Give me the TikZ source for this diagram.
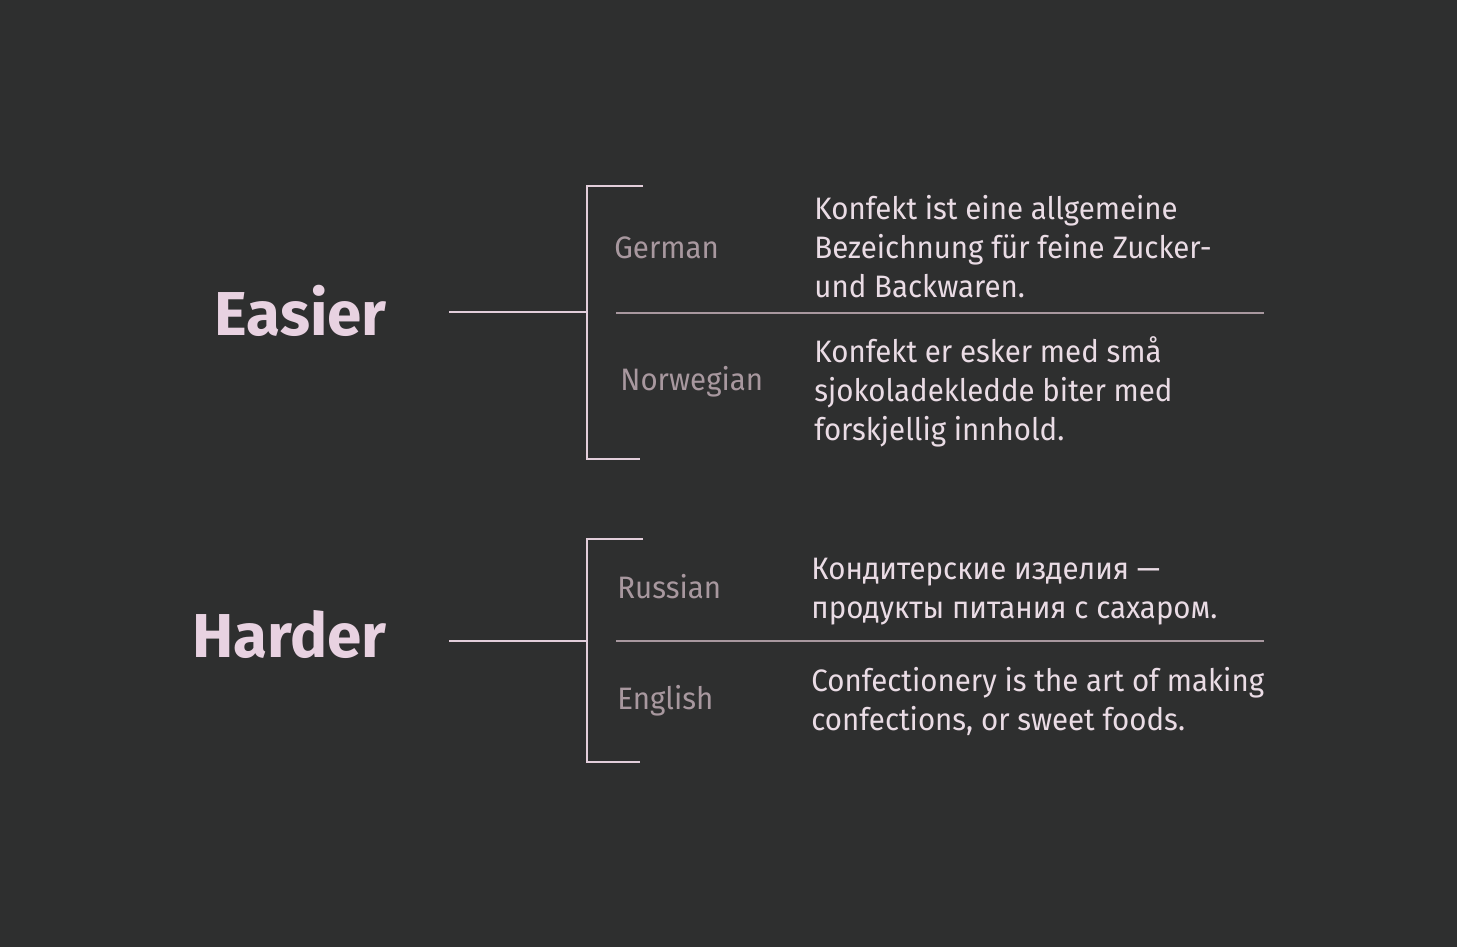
\documentclass[tikz,border=0pt]{standalone}
\usepackage{fontspec}
\setmainfont{Fira Sans}
\newfontfamily\bodyfont[FakeStretch=0.95]{Fira Sans}
\definecolor{bg}{HTML}{2E2F2F}
\definecolor{pinkhead}{HTML}{E8D2E1}
\definecolor{pinkline}{HTML}{E2CEDB}
\definecolor{greylang}{HTML}{A8989F}
\definecolor{pinktext}{HTML}{EADCE5}
\begin{document}
\begin{tikzpicture}[x=0.5pt,y=-0.5pt]
	\tikzstyle{head} = [anchor=base east, inner sep=0pt, text=pinkhead, font=\fontsize{31}{36}\selectfont\bfseries]
	\tikzstyle{lang} = [anchor=base west, inner sep=0pt, text=greylang, font=\bodyfont\fontsize{15.5}{19.5}\selectfont]
	\tikzstyle{txt} = [anchor=base west, inner sep=0pt, align=left, text=pinktext, font=\bodyfont\fontsize{15.5}{19.5}\selectfont]
	\tikzstyle{br} = [draw=pinkline, line width=1pt]
	\tikzstyle{sep} = [draw=greylang, line width=1pt]
	\fill[bg] (0,0) rectangle (1457,947);
	\useasboundingbox (0,0) rectangle (1457,947);
	% easier group
	\node[head] (easier) at (387,335) {Easier};
	\coordinate (e-in) at (449,312);
	\coordinate (e-mid) at (587,312);
	\coordinate (e-top) at (587,186);
	\coordinate (e-bot) at (587,459);
	\coordinate (e-topend) at (643,186);
	\coordinate (e-botend) at (640,459);
	\coordinate (e-sepl) at (616,313);
	\coordinate (e-sepr) at (1264,313);
	\node[lang] (german) at (614,258) {German};
	\node[lang] (norwegian) at (620,390) {Norwegian};
	% base anchor sits on the last line
	\node[txt] (german-txt) at (814,297) {Konfekt ist eine allgemeine\\Bezeichnung für feine Zucker-\\und Backwaren.};
	\node[txt] (norwegian-txt) at (814,440) {Konfekt er esker med små\\sjokoladekledde biter med\\forskjellig innhold.};
	\draw[br] (e-in) -- (e-mid);
	\draw[br] (e-topend) -- (e-top) -- (e-bot) -- (e-botend);
	\draw[sep] (e-sepl) -- (e-sepr);
	% harder group
	\node[head] (harder) at (387,657) {Harder};
	\coordinate (h-in) at (449,641);
	\coordinate (h-mid) at (587,641);
	\coordinate (h-top) at (587,539);
	\coordinate (h-bot) at (587,762);
	\coordinate (h-topend) at (643,539);
	\coordinate (h-botend) at (640,762);
	\coordinate (h-sepl) at (616,641);
	\coordinate (h-sepr) at (1264,641);
	\node[lang] (russian) at (617,598) {Russian};
	\node[lang] (english) at (617,709) {English};
	\node[txt] (russian-txt) at (811,618) {Кондитерские изделия —\\продукты питания с сахаром.};
	\node[txt] (english-txt) at (811,730) {Confectionery is the art of making\\confections, or sweet foods.};
	\draw[br] (h-in) -- (h-mid);
	\draw[br] (h-topend) -- (h-top) -- (h-bot) -- (h-botend);
	\draw[sep] (h-sepl) -- (h-sepr);
\end{tikzpicture}
\end{document}
